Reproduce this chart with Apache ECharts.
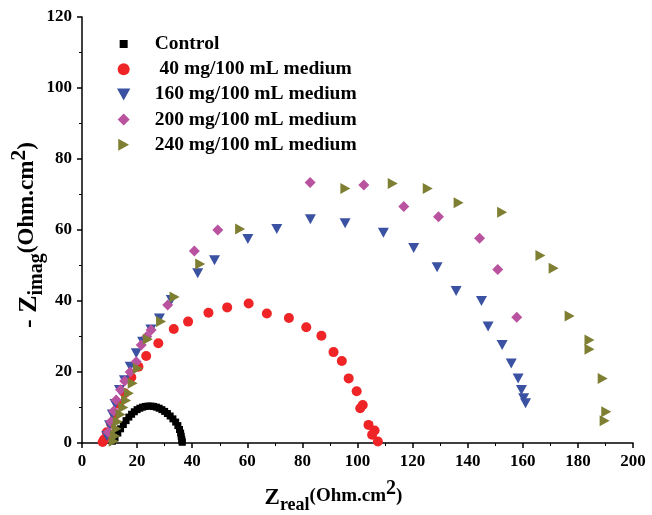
<!DOCTYPE html>
<html lang="en">

<head>
    <meta charset="UTF-8">
    <title>Nyquist</title>
    <script src="https://cdn.jsdelivr.net/npm/echarts@6.0.0/dist/echarts.min.js"></script>
    <style>
        body { margin: 0; background: #fff; }
    </style>
</head>

<body>
    <div id="chart" style="width: 652px; height: 515px;"></div>
    <script>
        // series names
        const names = ['Control', ' 40 mg/100 mL medium', '160 mg/100 mL medium', '200 mg/100 mL medium', '240 mg/100 mL medium'];

        // [Zreal, -Zimag]
        const control = [[11, 0.5], [12, 1.5], [13, 2.8], [14, 4], [15, 5.2], [16, 6.3], [17, 7.3], [18, 8.1], [19, 8.8],
            [20, 9.4], [21, 9.8], [22, 10.1], [23, 10.3], [24, 10.4], [25, 10.4], [26, 10.3], [27, 10.1], [28, 9.8],
            [29, 9.4], [30, 8.9], [31, 8.3], [32, 7.6], [33, 6.8], [34, 5.9], [34.8, 4.9], [35.4, 3.8], [35.8, 2.8],
            [36, 1.9], [36.2, 1.1], [36.3, 0.5], [36.4, 0.2]];
        const m40 = [[7.5, 0.3], [8, 1], [9, 3], [10.5, 5.5], [12, 8], [13.5, 11], [15.5, 14], [17.9, 18.5], [20.5, 21.5],
            [23.3, 24.5], [27.7, 28.1], [33.3, 32.1], [38.5, 34.2], [45.9, 36.7], [52.7, 38.2], [60.5, 39.3],
            [67.1, 36.5], [75.1, 35.2], [81.4, 32.6], [86.9, 30.2], [91.3, 25.6], [94.3, 23.1], [96.8, 18.2],
            [99.7, 14.6], [101.9, 10.7], [101, 9.8], [104, 5.1], [106.2, 3.5], [105.3, 2.3], [107.4, 0.4]];
        const m160 = [[9, 2], [10, 5], [11, 8], [12, 11], [13.6, 14.9], [15.4, 17.7], [17.5, 21.5], [19.7, 25.3],
            [22, 28.5], [25, 32], [28.1, 35.1], [32.4, 40.3], [42, 47.8], [48.1, 51.5], [60.2, 57.5], [70.7, 60.3],
            [82.9, 63], [95.5, 61.9], [109.4, 59.2], [120.4, 54.9], [128.9, 49.5], [135.8, 42.8], [145, 40],
            [147.4, 32.8], [152.5, 27.6], [155.8, 22.4], [158.3, 18.2], [159.5, 14.9], [160.3, 12.6], [161, 11.2]];
        const m200 = [[9.5, 3], [10.5, 6], [11.5, 9], [12.4, 12.1], [14, 15], [15.5, 17.5], [17.5, 20], [19.7, 22.9],
            [21.5, 27.6], [23.5, 30], [25.1, 31.8], [31.1, 38.9], [40.8, 54.1], [49.3, 60], [82.8, 73.4],
            [102.3, 72.7], [116.8, 66.6], [129.4, 63.7], [144.3, 57.7], [150.9, 48.9], [157.8, 35.4]];
        const m240 = [[11.5, 0.5], [12, 2], [12.5, 4], [13, 6], [14, 8], [15, 10], [16, 12], [17, 14], [18.4, 16.8],
            [20.3, 21], [23.9, 29.2], [28.7, 34.2], [33.6, 41.1], [42.9, 50.4], [57.4, 60.3], [95.6, 71.7],
            [112.8, 73.1], [125.5, 71.7], [136.7, 67.7], [152.5, 65], [166.4, 52.8], [171.2, 49.2], [177, 35.8],
            [184.2, 29], [184.2, 26.4], [189, 18.2], [190.3, 8.8], [189.7, 6.3]];

        const font = 'Liberation Serif';
        const square = 'path://M0,0h10v10h-10z';
        const smallSquare = 'path://M0,0M12,12M2,2h8v8h-8z';
        const diamond = 'path://M5,0L10,5L5,10L0,5Z';
        const triDown = 'path://M0,0L10,0L5,9Z';
        const triRight = 'path://M0,0L9,5L0,10Z';

        const chart = echarts.init(document.getElementById('chart'));

        function sc(name, data, symbol, size, color) {
            return {
                name: name,
                type: 'scatter',
                data: data,
                symbol: symbol,
                symbolSize: size,
                itemStyle: { color: color, opacity: 1 },
                emphasis: { disabled: true },
            };
        }

        function txt(size) {
            return { fontFamily: font, fontWeight: 'bold', fontSize: size, color: '#000' };
        }

        const option = {
            backgroundColor: '#fff',
            animation: false,
            grid: { left: 82, right: 19, top: 17, bottom: 72, outerBoundsMode: 'none' },
            legend: {
                orient: 'vertical',
                left: 112,
                top: 29,
                itemWidth: 30,
                itemHeight: 12,
                itemGap: 5.2,
                textStyle: Object.assign(txt(19.5), { lineHeight: 19, padding: [0, 0, 0, 11] }),
                data: [
                    { name: names[0], icon: smallSquare },
                    { name: names[1], icon: 'circle' },
                    { name: names[2], icon: triDown },
                    { name: names[3], icon: diamond },
                    { name: names[4], icon: triRight },
                ],
            },
            xAxis: {
                type: 'value',
                min: 0, max: 200, interval: 20,
                name: '{z|Z}{sub|real}{a|(Ohm.cm}{sup|2}{a|)}',
                nameLocation: 'middle',
                nameGap: 36,
                nameMoveOverlap: false,
                nameTextStyle: {
                    padding: [0, 48, 0, 0],
                    rich: {
                        z: txt(23),
                        a: Object.assign(txt(19), { padding: [0, 0, 3, 0] }),
                        sub: Object.assign(txt(18), { padding: [14, 0, 0, 0] }),
                        sup: Object.assign(txt(20), { padding: [0, 0, 18, 0] }),
                    }
                },
                axisLine: { lineStyle: { color: '#000', width: 1.5 } },
                axisTick: { length: 5, lineStyle: { color: '#000', width: 1.5 } },
                minorTick: { show: true, splitNumber: 2, length: 3, lineStyle: { color: '#000', width: 1 } },
                axisLabel: Object.assign(txt(17), { margin: 10 }),
                splitLine: { show: false },
            },
            yAxis: {
                type: 'value',
                min: 0, max: 120, interval: 20,
                name: '{z|- Z}{sub|imag}{a|(Ohm.cm}{sup|2}{a|)}',
                nameLocation: 'middle',
                nameGap: 32,
                nameMoveOverlap: false,
                nameRotate: 90,
                nameTextStyle: {
                    padding: [0, 10, 0, 0],
                    rich: {
                        z: txt(26),
                        a: Object.assign(txt(23), { padding: [0, 0, 3, 0] }),
                        sub: Object.assign(txt(20), { padding: [16, 0, 0, 0] }),
                        sup: Object.assign(txt(22), { padding: [0, 0, 20, 0] }),
                    }
                },
                axisLine: { show: true, lineStyle: { color: '#000', width: 1.5 } },
                axisTick: { show: true, length: 5, lineStyle: { color: '#000', width: 1.5 } },
                minorTick: { show: true, splitNumber: 2, length: 3, lineStyle: { color: '#000', width: 1 } },
                axisLabel: Object.assign(txt(17), { margin: 10 }),
                splitLine: { show: false },
            },
            series: [
                sc(names[0], control, square, 7, '#000000'),
                sc(names[1], m40, 'circle', 10, '#ee2427'),
                sc(names[2], m160, triDown, [11, 10], '#3b52a3'),
                sc(names[3], m200, diamond, 11, '#b9529f'),
                sc(names[4], m240, triRight, [10, 11], '#7f7f33'),
            ]
        };

        chart.setOption(option);
    </script>
</body>

</html>
